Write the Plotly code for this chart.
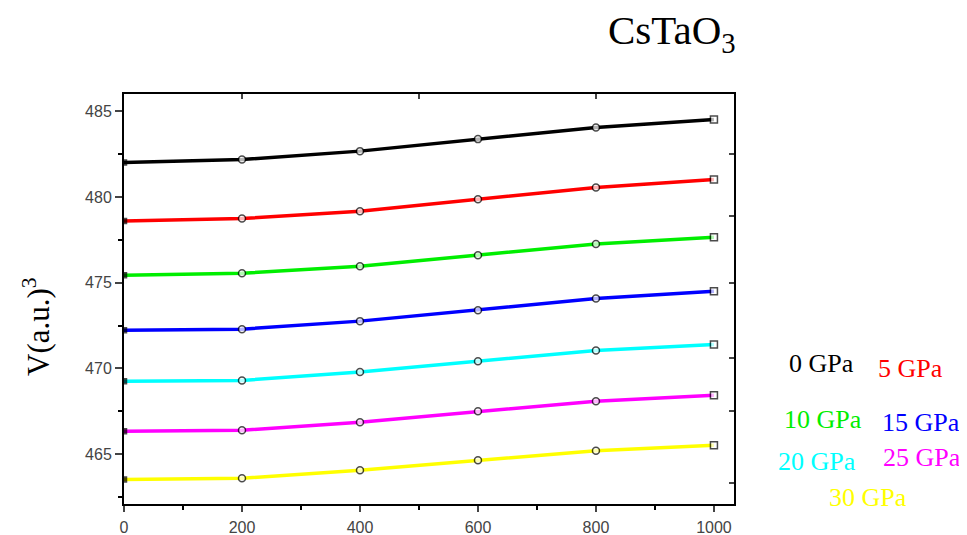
import plotly.graph_objects as go

temperature = [0, 200, 400, 600, 800, 1000]
v_0gpa = [482.00, 482.18, 482.67, 483.37, 484.05, 484.52]
v_5gpa = [478.59, 478.74, 479.17, 479.87, 480.55, 481.02]
v_10gpa = [475.44, 475.55, 475.96, 476.60, 477.26, 477.65]
v_15gpa = [472.23, 472.29, 472.76, 473.40, 474.08, 474.50]
v_20gpa = [469.26, 469.30, 469.80, 470.42, 471.05, 471.40]
v_25gpa = [466.34, 466.40, 466.87, 467.50, 468.09, 468.44]
v_30gpa = [463.53, 463.60, 464.07, 464.65, 465.21, 465.52]

series = [
    ("0 GPa", v_0gpa, "#000000"),
    ("5 GPa", v_5gpa, "#ff0000"),
    ("10 GPa", v_10gpa, "#00ee00"),
    ("15 GPa", v_15gpa, "#0000ff"),
    ("20 GPa", v_20gpa, "#00ffff"),
    ("25 GPa", v_25gpa, "#ff00ff"),
    ("30 GPa", v_30gpa, "#ffff00"),
]

symbols = ["square", "circle", "circle", "circle", "circle", "square"]
msizes = [5, 7, 7, 7, 7, 7]
mcolors = ["black", "white", "white", "white", "white", "white"]

fig = go.Figure()
for name, vals, col in series:
    fig.add_trace(go.Scatter(
        x=temperature, y=vals, mode="lines", name=name,
        line=dict(color=col, width=3.5), showlegend=False, hoverinfo="skip"))
for name, vals, col in series:
    fig.add_trace(go.Scatter(
        x=temperature, y=vals, mode="markers", showlegend=False, hoverinfo="skip",
        marker=dict(symbol=symbols, size=msizes, color=mcolors,
                    line=dict(color="black", width=1.5))))

# invisible trace to carry the mirrored (inside-tick) axes
fig.add_trace(go.Scatter(x=temperature, y=v_0gpa, xaxis="x2", yaxis="y2",
                         mode="markers", opacity=0, showlegend=False, hoverinfo="skip"))

tickfont = dict(family="Liberation Sans Narrow, Liberation Sans, Arial", size=16, color="#444444")
xr = [0, 1034]
yr = [462.1, 486.0]

fig.update_layout(
    width=960, height=528,
    margin=dict(l=116, r=234, t=86, b=32),
    paper_bgcolor="white", plot_bgcolor="white",
    xaxis=dict(range=xr, tickvals=[0, 200, 400, 600, 800, 1000], ticks="outside",
               ticklen=6, tickwidth=1.5, showline=True, linecolor="black", linewidth=2,
               showgrid=False, zeroline=False, tickfont=tickfont, ticklabelstandoff=2,
               automargin=False,
               minor=dict(tickvals=[100, 300, 500, 700, 900], ticks="outside",
                          ticklen=4, tickwidth=1.5, tickcolor="black")),
    yaxis=dict(range=yr, tickvals=[465, 470, 475, 480, 485], ticks="outside",
               ticklen=7, tickwidth=1.5, showline=True, linecolor="black", linewidth=2,
               showgrid=False, zeroline=False, tickfont=tickfont, ticklabelstandoff=0,
               automargin=False,
               minor=dict(tickvals=[462.5, 467.5, 472.5, 477.5, 482.5], ticks="outside",
                          ticklen=4, tickwidth=1.5, tickcolor="black")),
    xaxis2=dict(range=xr, overlaying="x", side="top", anchor="y2", automargin=False,
                tickvals=[200, 500, 800], ticks="inside", ticklen=5, tickwidth=1.5,
                showticklabels=False, showline=True, linecolor="black", linewidth=2,
                showgrid=False, zeroline=False),
    yaxis2=dict(range=yr, overlaying="y", side="right", anchor="x2", automargin=False,
                tickvals=[463.3, 467.5, 470.6, 475.0, 478.9, 482.5],
                ticks="inside", ticklen=5, tickwidth=1.5,
                showticklabels=False, showline=True, linecolor="black", linewidth=2,
                showgrid=False, zeroline=False),
)

# annotation positions given in page pixels
def px2paper(px, py):
    return (px - 123) / 610, (503 - py) / 410

serif = "Liberation Serif, Times New Roman, serif"
tx, ty = px2paper(671, 32)
fig.add_annotation(text="CsTaO<sub>3</sub>", xref="paper", yref="paper", x=tx, y=ty,
                   xanchor="center", yanchor="middle", showarrow=False,
                   font=dict(family=serif, size=41, color="black"))
vx, vy = px2paper(35, 326)
fig.add_annotation(text="V(a.u.)<sup>3</sup>", xref="paper", yref="paper", x=vx, y=vy,
                   xanchor="center", yanchor="middle", showarrow=False, textangle=-90,
                   font=dict(family=serif, size=31, color="black"))

legend_pos = [(820, 363), (909, 368), (822, 418), (920, 421), (816, 460), (921, 456), (867, 496)]
for (name, vals, col), (px, py) in zip(series, legend_pos):
    lx, ly = px2paper(px, py)
    fig.add_annotation(text=name, xref="paper", yref="paper", x=lx, y=ly,
                       xanchor="center", yanchor="middle", showarrow=False,
                       font=dict(family=serif, size=26, color=col))

fig.write_html("out.html")
